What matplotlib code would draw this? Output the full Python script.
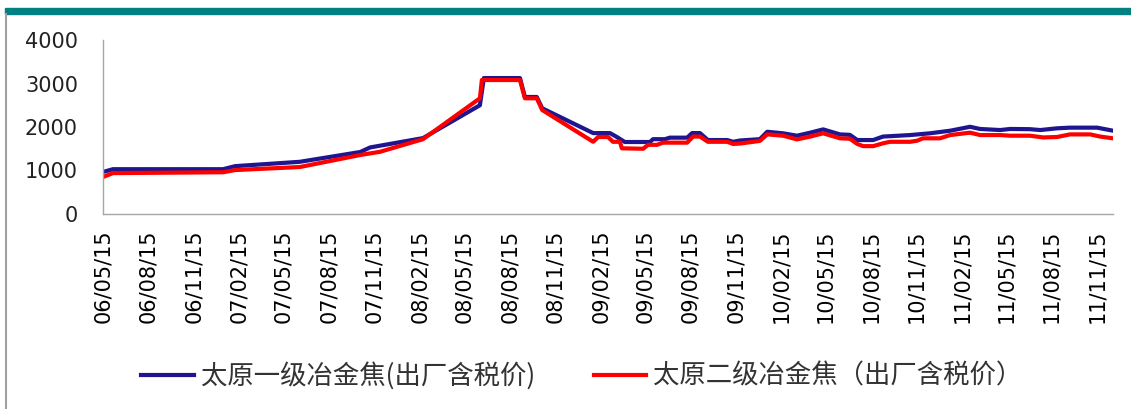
import matplotlib
matplotlib.use("Agg")
import matplotlib.pyplot as plt
import matplotlib.dates as mdates
from matplotlib.lines import Line2D
from matplotlib.patches import Rectangle
import pandas as pd

plt.rcParams['font.family'] = ['Noto Sans CJK SC', 'DejaVu Sans']

# 太原一级冶金焦(出厂含税价)
dates_1 = ["2006-05-15", "2006-06-04", "2007-01-13", "2007-02-06", "2007-06-17", "2007-10-17",
           "2007-11-06", "2008-02-21", "2008-06-15", "2008-06-23", "2008-09-04", "2008-09-14",
           "2008-10-08", "2008-10-19", "2009-01-30", "2009-03-05", "2009-03-19", "2009-04-04",
           "2009-05-25", "2009-05-31", "2009-06-24", "2009-07-04", "2009-08-08", "2009-08-18",
           "2009-09-03", "2009-09-19", "2009-10-28", "2009-11-09", "2009-11-23", "2010-01-02",
           "2010-01-17", "2010-02-18", "2010-03-18", "2010-04-14", "2010-05-10", "2010-06-13",
           "2010-07-03", "2010-07-18", "2010-08-19", "2010-09-08", "2010-11-02", "2010-12-12",
           "2011-01-22", "2011-03-03", "2011-03-23", "2011-05-03", "2011-05-23", "2011-07-02",
           "2011-07-23", "2011-08-26", "2011-09-21", "2011-11-15", "2011-12-17"]
values_1 = [966, 1030, 1030, 1100, 1200, 1425, 1530, 1745, 2500, 3125, 3125, 2690, 2690, 2430,
            1860, 1860, 1770, 1655, 1655, 1720, 1720, 1755, 1755, 1860, 1860, 1700, 1700, 1660,
            1690, 1720, 1890, 1855, 1800, 1870, 1945, 1830, 1820, 1700, 1700, 1780, 1815, 1855,
            1915, 2005, 1955, 1930, 1955, 1950, 1930, 1970, 1985, 1985, 1915]

# 太原二级冶金焦（出厂含税价）
dates_2 = ["2006-05-15", "2006-06-04", "2007-01-13", "2007-02-06", "2007-06-17", "2007-10-17",
           "2007-11-26", "2008-02-21", "2008-06-15", "2008-06-19", "2008-09-04", "2008-09-14",
           "2008-10-08", "2008-10-19", "2009-01-30", "2009-02-09", "2009-03-01", "2009-03-11",
           "2009-03-25", "2009-03-29", "2009-05-11", "2009-05-21", "2009-06-08", "2009-06-20",
           "2009-08-08", "2009-08-20", "2009-09-03", "2009-09-19", "2009-10-28", "2009-11-09",
           "2009-11-23", "2010-01-02", "2010-01-17", "2010-02-18", "2010-03-18", "2010-04-14",
           "2010-05-10", "2010-06-13", "2010-07-03", "2010-07-18", "2010-07-30", "2010-08-19",
           "2010-09-08", "2010-09-22", "2010-11-02", "2010-11-16", "2010-11-28", "2011-01-01",
           "2011-01-22", "2011-03-03", "2011-03-23", "2011-05-03", "2011-05-23", "2011-07-02",
           "2011-07-29", "2011-08-26", "2011-09-21", "2011-11-01", "2011-11-21", "2011-12-17"]
values_2 = [850, 940, 960, 1010, 1080, 1356, 1430, 1720, 2660, 3080, 3080, 2660, 2660, 2390,
            1660, 1770, 1770, 1660, 1660, 1510, 1500, 1590, 1590, 1640, 1640, 1780, 1780, 1660,
            1660, 1610, 1620, 1680, 1830, 1800, 1715, 1780, 1855, 1740, 1730, 1610, 1560, 1560,
            1625, 1660, 1660, 1685, 1740, 1740, 1815, 1870, 1815, 1815, 1800, 1800, 1760, 1770,
            1830, 1830, 1780, 1740]

label_1 = '太原一级冶金焦(出厂含税价)'
label_2 = '太原二级冶金焦（出厂含税价）'

y_ticks = [0, 1000, 2000, 3000, 4000]
x_ticks = pd.date_range('2006-05-15', periods=23, freq=pd.DateOffset(months=3))

fig = plt.figure(figsize=(11.31, 4.09), dpi=100)
ax = fig.add_axes([103 / 1131, 1 - 214 / 409, (1113 - 103) / 1131, (214 - 40) / 409])

ax.plot(pd.to_datetime(dates_1), values_1, color='#1f1590', lw=3.0, label=label_1)
ax.plot(pd.to_datetime(dates_2), values_2, color='#ff0000', lw=3.0, label=label_2)

ax.set_ylim(0, 4000)
ax.set_yticks(y_ticks)
ax.set_xlim(pd.Timestamp('2006-05-15'), pd.Timestamp('2011-12-17'))
ax.set_xticks(x_ticks)
ax.xaxis.set_major_formatter(mdates.DateFormatter('%y/%m/%d'))

for s in ['top', 'right']:
    ax.spines[s].set_visible(False)
for s in ['left', 'bottom']:
    ax.spines[s].set_color('#a6a6a6')
    ax.spines[s].set_linewidth(1.0)
ax.tick_params(axis='y', length=0, pad=18, labelsize=15, labelcolor='#222222')
ax.tick_params(axis='x', length=0, pad=11, labelsize=15, labelcolor='#000000', rotation=90)
for t in ax.get_xticklabels() + ax.get_yticklabels():
    t.set_family('DejaVu Sans')

# frame decorations
fig.patches.append(Rectangle((5 / 1131, 1 - 14 / 409), 1 - 5 / 1131, 6 / 409,
                             transform=fig.transFigure, color='#008080', zorder=0))
fig.lines.append(Line2D([5.5 / 1131, 5.5 / 1131], [0, 1 - 14 / 409],
                        transform=fig.transFigure, color='#a0a0a0', lw=1.5))

fig.legend(loc='center', bbox_to_anchor=(582 / 1131, 1 - 376 / 409), ncol=2, frameon=False,
           fontsize=19, handlelength=2.0, handletextpad=0.27, columnspacing=2.2,
           labelcolor='#333333')

fig.savefig('out.png', dpi=100)
